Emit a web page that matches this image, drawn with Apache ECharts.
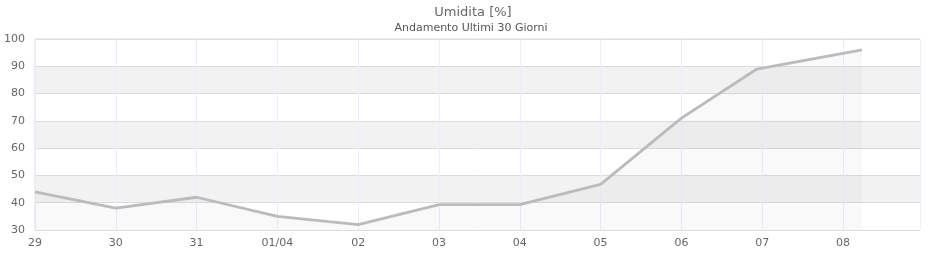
<!DOCTYPE html>
<html>
<head>
<meta charset="utf-8">
<script src="https://cdn.jsdelivr.net/npm/echarts@6/dist/echarts.min.js"></script>
<style>html,body{margin:0;padding:0;background:#fff}#c{width:940px;height:260px}</style>
</head>
<body>
<div id="c"></div>
<script>
var titleText = 'Umidita [%]';
var subtitleText = 'Andamento Ultimi 30 Giorni';
// x positions in days from 29/03 00:00
var dayOffsets = [0, 1, 2, 3, 4, 5, 6, 7, 8, 8.935, 10.235];
var humidity = [44, 38, 42, 35, 32, 39.3, 39.3, 46.7, 71, 89, 96];
var tickLabels = ['29', '30', '31', '01/04', '02', '03', '04', '05', '06', '07', '08'];
var xMax = 10.953;
var yMin = 30, yMax = 100, yStep = 10;

var chart = echarts.init(document.getElementById('c'), null, {renderer: 'canvas'});
chart.setOption({
  animation: false,
  backgroundColor: '#fff',
  title: [{
    text: titleText,
    left: 468, top: 1, textAlign: 'center',
    textStyle: {fontFamily: 'DejaVu Sans', fontSize: 13, fontWeight: 'normal', color: '#666'}
  }, {
    text: subtitleText,
    left: 466, top: 18, textAlign: 'center',
    textStyle: {fontFamily: 'DejaVu Sans', fontSize: 11, fontWeight: 'normal', color: '#555'}
  }],
  grid: {left: 35, right: 20, top: 39, bottom: 30, show: true, borderColor: '#dcdcdc', borderWidth: 1, backgroundColor: 'transparent'},
  xAxis: {
    type: 'value', min: 0, max: xMax, interval: 1,
    axisLine: {show: false}, axisTick: {show: false},
    splitLine: {show: true, lineStyle: {color: '#ededfa', width: 1}},
    axisLabel: {
      showMaxLabel: false, margin: 8,
      fontFamily: 'DejaVu Sans', fontSize: 11, color: '#666',
      formatter: function (v) { var i = Math.round(v); return (Math.abs(v - i) < 1e-6 && tickLabels[i] !== undefined) ? tickLabels[i] : ''; }
    }
  },
  yAxis: {
    type: 'value', min: yMin, max: yMax, interval: yStep,
    axisLine: {show: false}, axisTick: {show: false},
    splitLine: {show: true, lineStyle: {color: '#dcdcdc', width: 1}},
    splitArea: {show: true, areaStyle: {color: ['#ffffff', '#f2f2f2']}},
    axisLabel: {margin: 10, fontFamily: 'DejaVu Sans', fontSize: 11, color: '#666'}
  },
  series: [{
    type: 'line',
    data: dayOffsets.map(function (d, i) { return [d, humidity[i]]; }),
    showSymbol: false,
    lineStyle: {color: '#bbbbbb', width: 2.8},
    areaStyle: {color: 'rgba(0,0,0,0.03)', origin: 'start'},
    silent: true
  }]
});
</script>
</body>
</html>
